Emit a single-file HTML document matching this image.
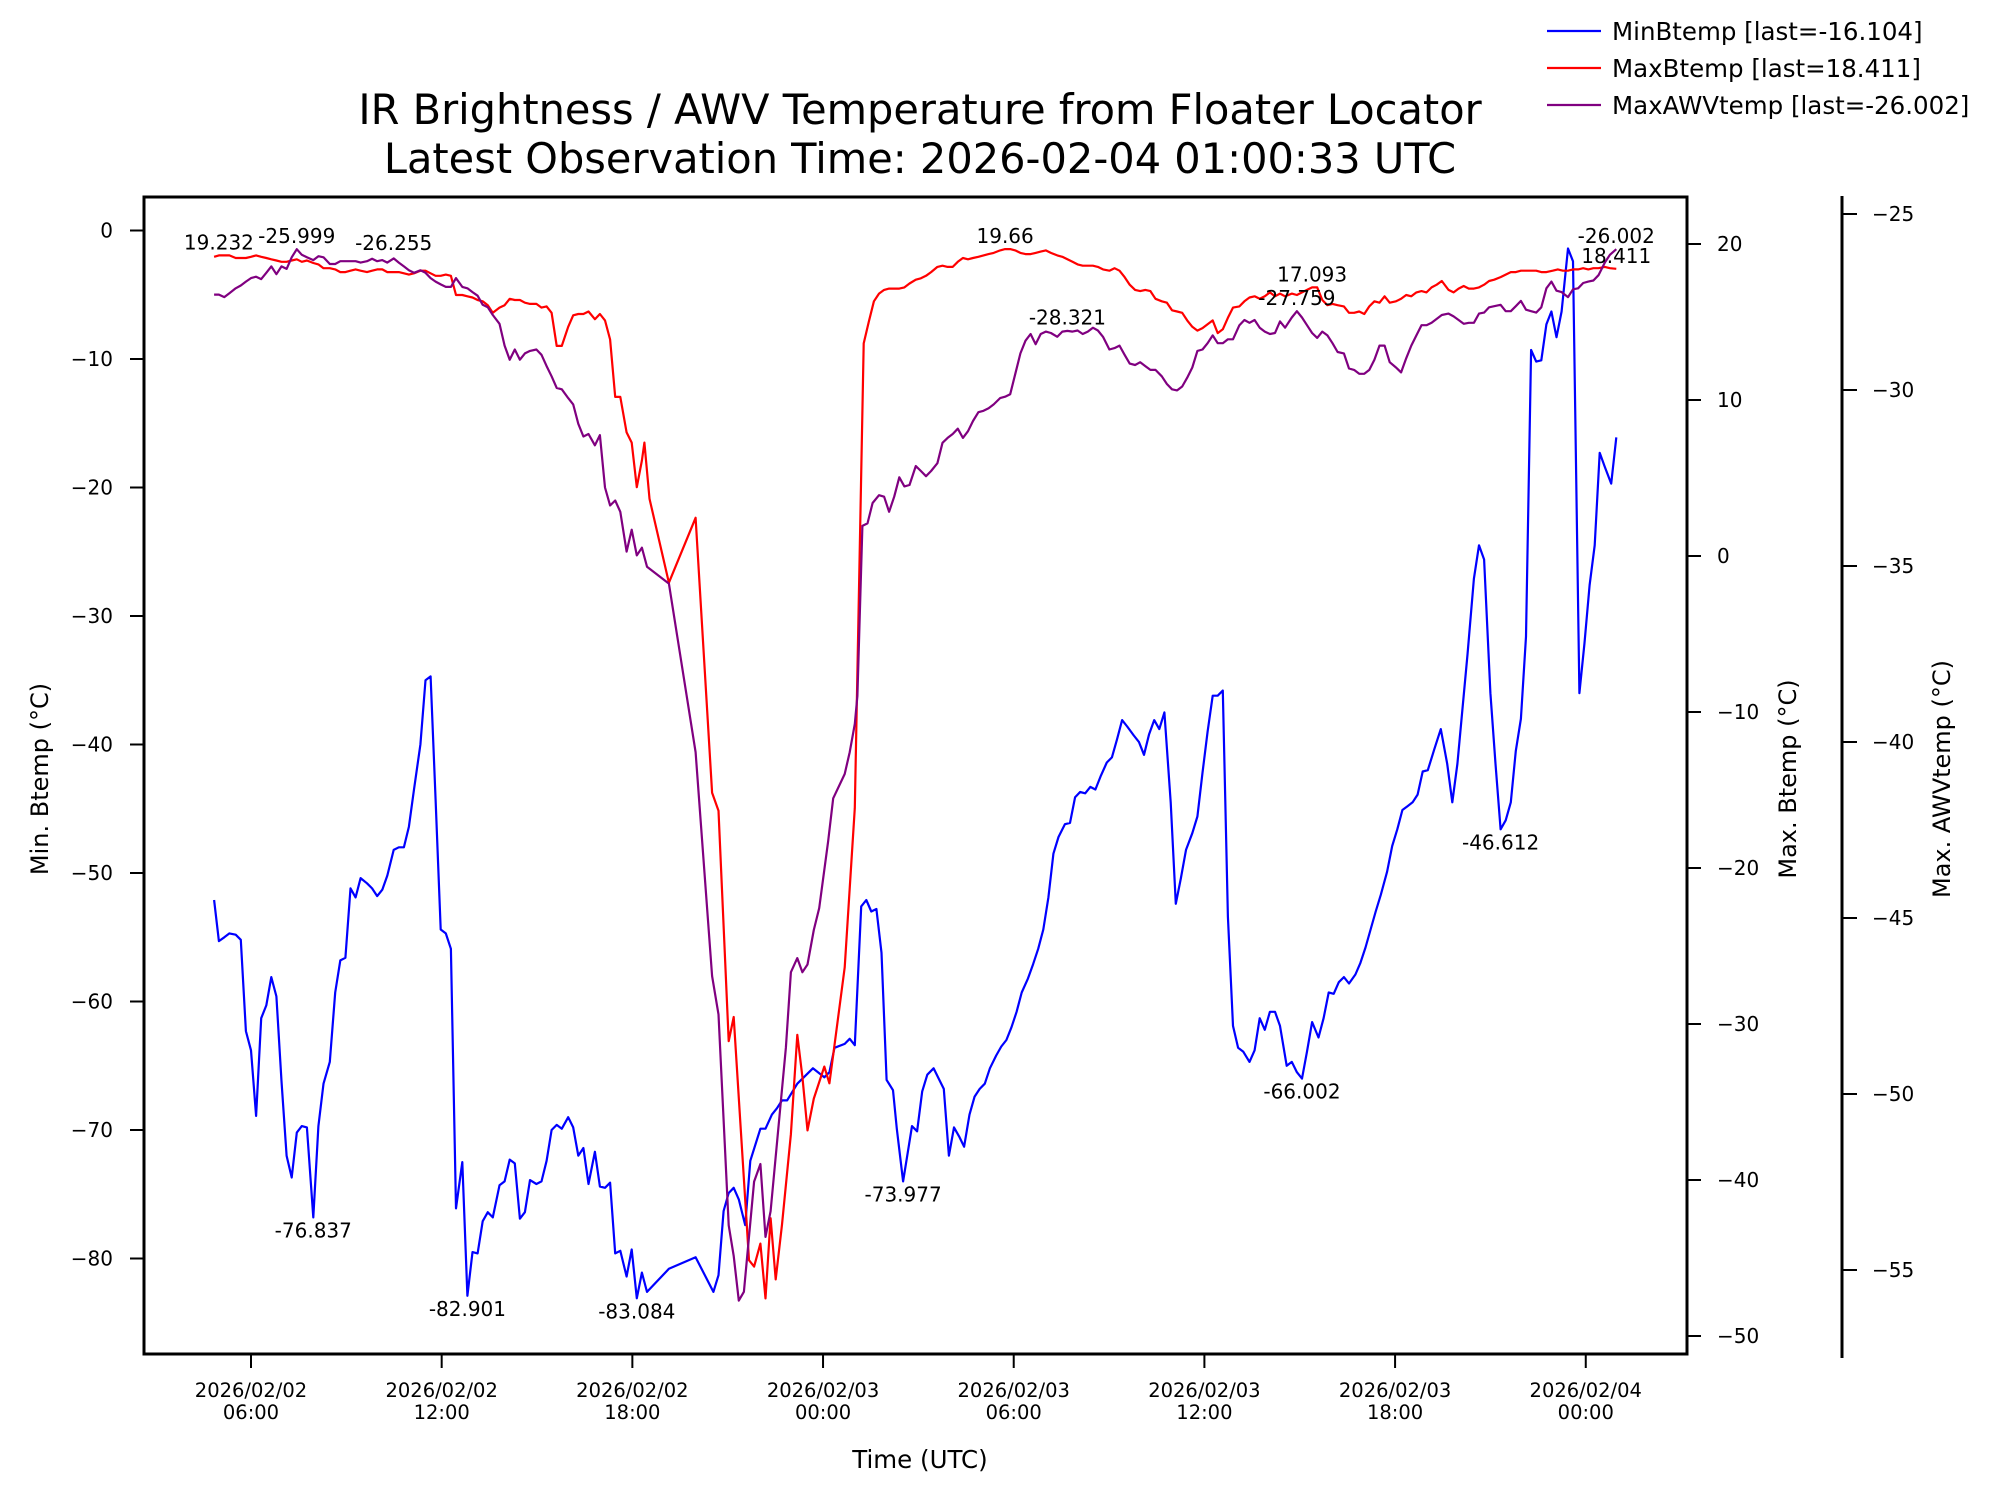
<!DOCTYPE html>
<html><head><meta charset="utf-8">
<style>
html,body{margin:0;padding:0;background:#fff;}
svg{display:block;font-family:"DejaVu Sans","Liberation Sans",sans-serif;}
</style></head>
<body>
<svg id="chart" width="1998" height="1495" viewBox="0 0 1998 1495" xmlns="http://www.w3.org/2000/svg">
<rect x="0" y="0" width="1998" height="1495" fill="#fff"/>
<g id="marks"></g>
<g id="axes"></g>
</svg>
<script>
// ===== data (time in hours since 2026/02/02 00:00 UTC) =====
const minTimes=[4.84,4.99,5.16,5.32,5.52,5.68,5.84,6.00,6.16,6.32,6.48,6.64,6.80,6.96,7.12,7.28,7.44,7.60,7.76,7.96,8.12,8.28,8.48,8.65,8.81,8.97,9.13,9.29,9.45,9.65,9.81,9.97,10.13,10.29,10.49,10.65,10.81,10.97,11.13,11.33,11.49,11.65,11.81,11.97,12.13,12.29,12.45,12.65,12.81,12.97,13.13,13.29,13.45,13.61,13.82,13.98,14.14,14.30,14.46,14.62,14.78,14.98,15.14,15.30,15.46,15.62,15.78,15.98,16.14,16.30,16.46,16.62,16.82,16.98,17.14,17.30,17.46,17.62,17.82,17.98,18.14,18.30,18.46,19.15,19.99,20.55,20.71,20.87,21.03,21.19,21.35,21.55,21.71,22.03,22.19,22.39,22.55,22.71,22.87,23.19,23.68,24.04,24.20,24.36,24.68,24.84,25.00,25.20,25.36,25.52,25.68,25.84,26.00,26.20,26.32,26.52,26.80,26.96,27.12,27.28,27.48,27.64,27.80,27.96,28.12,28.28,28.44,28.61,28.77,28.93,29.09,29.25,29.45,29.61,29.77,29.93,30.09,30.25,30.45,30.61,30.77,30.93,31.09,31.25,31.41,31.61,31.77,31.93,32.09,32.25,32.41,32.57,32.73,32.93,33.09,33.25,33.41,33.57,33.78,33.94,34.10,34.26,34.42,34.58,34.74,34.94,35.10,35.26,35.42,35.62,35.78,35.94,36.10,36.26,36.42,36.58,36.74,36.90,37.06,37.22,37.42,37.58,37.74,37.90,38.06,38.22,38.38,38.59,38.75,38.91,39.07,39.23,39.39,39.59,39.75,39.91,40.07,40.23,40.39,40.55,40.75,40.91,41.07,41.23,41.39,41.55,41.75,41.91,42.07,42.23,42.39,42.55,42.71,42.87,43.03,43.23,43.44,43.64,43.80,43.96,44.12,44.28,44.48,44.64,44.80,45.00,45.16,45.32,45.48,45.64,45.80,45.96,46.12,46.28,46.44,46.60,46.76,46.92,47.08,47.24,47.44,47.60,47.80,47.96,48.12,48.28,48.44,48.60,48.80,48.96];
const minValues=[-52.1,-55.3,-55.0,-54.7,-54.8,-55.2,-62.3,-63.8,-68.9,-61.3,-60.3,-58.1,-59.6,-66.2,-72.0,-73.7,-70.2,-69.7,-69.8,-76.8,-69.7,-66.4,-64.7,-59.3,-56.8,-56.6,-51.2,-51.9,-50.4,-50.8,-51.2,-51.8,-51.3,-50.2,-48.2,-48.0,-48.0,-46.4,-43.5,-40.0,-35.0,-34.7,-44.3,-54.4,-54.7,-55.9,-76.1,-72.5,-82.9,-79.5,-79.6,-77.1,-76.4,-76.8,-74.3,-74.0,-72.3,-72.6,-76.9,-76.4,-73.9,-74.2,-74.0,-72.4,-70.0,-69.6,-69.9,-69.0,-69.8,-72.0,-71.4,-74.2,-71.7,-74.4,-74.5,-74.1,-79.6,-79.4,-81.4,-79.3,-83.1,-81.1,-82.6,-80.8,-79.9,-82.6,-81.3,-76.3,-74.9,-74.5,-75.4,-77.4,-72.4,-69.9,-69.9,-68.8,-68.3,-67.7,-67.7,-66.4,-65.2,-65.9,-65.5,-63.6,-63.3,-62.9,-63.4,-52.6,-52.1,-53.0,-52.8,-56.2,-66.1,-66.9,-69.9,-74.0,-69.7,-70.1,-67.0,-65.7,-65.2,-66.0,-66.8,-72.0,-69.8,-70.5,-71.3,-68.8,-67.4,-66.8,-66.4,-65.2,-64.2,-63.5,-63.0,-62.0,-60.8,-59.3,-58.2,-57.1,-55.9,-54.4,-51.9,-48.5,-47.2,-46.2,-46.1,-44.1,-43.7,-43.8,-43.3,-43.5,-42.5,-41.4,-41.0,-39.6,-38.1,-38.6,-39.3,-39.8,-40.8,-39.2,-38.1,-38.8,-37.5,-44.5,-52.4,-50.4,-48.2,-46.9,-45.6,-42.2,-39.0,-36.2,-36.2,-35.8,-53.4,-61.9,-63.6,-63.9,-64.7,-63.8,-61.3,-62.2,-60.8,-60.8,-61.9,-65.0,-64.7,-65.5,-66.0,-63.9,-61.6,-62.8,-61.3,-59.3,-59.4,-58.5,-58.1,-58.6,-57.9,-57.0,-55.8,-54.4,-53.0,-51.7,-49.9,-47.9,-46.6,-45.1,-44.8,-44.5,-43.9,-42.1,-42.0,-40.4,-38.8,-41.5,-44.5,-41.5,-37.2,-33.0,-27.1,-24.5,-25.6,-36.0,-41.5,-46.6,-45.9,-44.5,-40.5,-38.0,-31.6,-9.3,-10.2,-10.1,-7.3,-6.3,-8.3,-6.3,-1.4,-2.4,-36.0,-32.1,-27.6,-24.5,-17.3,-18.4,-19.7,-16.1];

const maxTimes=[4.84,4.99,5.16,5.32,5.52,5.68,5.84,6.00,6.16,6.32,6.48,6.64,6.80,6.96,7.12,7.28,7.44,7.60,7.76,7.96,8.12,8.28,8.48,8.65,8.81,8.97,9.13,9.29,9.45,9.65,9.81,9.97,10.13,10.29,10.49,10.65,10.81,10.97,11.13,11.33,11.49,11.65,11.81,11.97,12.13,12.29,12.45,12.65,12.81,12.97,13.13,13.29,13.45,13.61,13.82,13.98,14.14,14.30,14.46,14.62,14.78,14.98,15.14,15.30,15.46,15.62,15.78,15.98,16.14,16.30,16.46,16.62,16.82,16.98,17.14,17.30,17.46,17.62,17.82,17.98,18.14,18.30,18.38,18.54,19.15,19.99,20.51,20.71,21.03,21.19,21.67,21.83,22.03,22.19,22.35,22.51,22.71,22.99,23.19,23.35,23.51,23.71,24.04,24.20,24.36,24.68,25.00,25.28,25.44,25.60,25.76,25.92,26.08,26.24,26.40,26.56,26.72,26.92,27.08,27.24,27.40,27.60,27.76,27.92,28.08,28.24,28.40,28.56,28.72,28.89,29.05,29.21,29.37,29.57,29.73,29.89,30.05,30.21,30.37,30.53,30.69,30.85,31.01,31.17,31.37,31.53,31.69,31.85,32.01,32.17,32.33,32.49,32.65,32.81,33.01,33.17,33.33,33.49,33.65,33.82,33.98,34.14,34.30,34.46,34.66,34.82,34.98,35.14,35.30,35.46,35.62,35.78,35.94,36.10,36.26,36.42,36.58,36.74,36.90,37.10,37.26,37.42,37.58,37.74,37.90,38.06,38.22,38.38,38.54,38.75,38.91,39.07,39.23,39.39,39.55,39.71,39.87,40.03,40.19,40.39,40.55,40.71,40.87,41.03,41.19,41.35,41.51,41.67,41.83,42.03,42.19,42.35,42.51,42.67,42.83,42.99,43.15,43.31,43.47,43.68,43.84,44.00,44.16,44.32,44.48,44.64,44.80,44.96,45.12,45.32,45.48,45.64,45.80,45.96,46.12,46.28,46.44,46.60,46.76,46.96,47.12,47.28,47.44,47.60,47.76,47.92,48.08,48.24,48.40,48.60,48.76,48.96];
const maxValues=[19.18,19.27,19.27,19.27,19.10,19.10,19.10,19.18,19.27,19.18,19.10,19.02,18.94,18.86,18.86,18.94,19.02,18.86,18.94,18.78,18.69,18.45,18.45,18.37,18.20,18.20,18.29,18.37,18.29,18.20,18.29,18.37,18.37,18.20,18.20,18.20,18.12,18.04,18.12,18.29,18.29,18.12,17.96,17.96,18.04,17.96,16.73,16.73,16.65,16.57,16.41,16.33,16.08,15.59,15.92,16.08,16.49,16.41,16.41,16.24,16.16,16.16,15.92,16.00,15.59,13.47,13.47,14.69,15.43,15.51,15.51,15.67,15.18,15.51,15.10,13.88,10.20,10.20,7.92,7.27,4.41,6.12,7.27,3.67,-1.71,2.45,-15.18,-16.33,-31.10,-29.55,-45.14,-45.55,-44.08,-47.59,-42.45,-46.37,-42.86,-37.06,-30.69,-33.39,-36.82,-34.78,-32.73,-33.80,-31.35,-26.37,-16.16,13.63,15.02,16.33,16.82,17.06,17.14,17.14,17.14,17.22,17.47,17.71,17.80,17.96,18.20,18.53,18.61,18.53,18.53,18.86,19.10,19.02,19.10,19.18,19.27,19.35,19.43,19.59,19.67,19.67,19.59,19.43,19.35,19.35,19.43,19.51,19.59,19.43,19.27,19.18,19.02,18.86,18.69,18.61,18.61,18.61,18.53,18.37,18.29,18.45,18.29,17.88,17.39,17.06,16.98,17.06,16.98,16.49,16.33,16.24,15.75,15.67,15.59,15.10,14.69,14.45,14.61,14.86,15.10,14.29,14.53,15.27,15.92,16.00,16.33,16.57,16.65,16.49,16.65,16.90,16.65,16.82,16.65,16.82,16.73,16.90,17.06,17.22,17.22,16.41,16.08,16.16,16.08,16.00,15.59,15.59,15.67,15.51,16.00,16.33,16.24,16.65,16.24,16.33,16.49,16.73,16.65,16.90,16.98,16.90,17.22,17.39,17.63,17.06,16.90,17.14,17.31,17.14,17.14,17.22,17.39,17.63,17.71,17.88,18.04,18.20,18.20,18.29,18.29,18.29,18.29,18.20,18.20,18.29,18.37,18.29,18.29,18.37,18.37,18.45,18.37,18.45,18.45,18.53,18.45,18.41];

const awvTimes=[4.84,4.99,5.16,5.32,5.52,5.68,5.84,6.00,6.16,6.32,6.48,6.64,6.80,6.96,7.12,7.28,7.44,7.60,7.76,7.96,8.12,8.28,8.48,8.65,8.81,8.97,9.13,9.29,9.45,9.65,9.81,9.97,10.13,10.29,10.49,10.65,10.81,10.97,11.13,11.33,11.49,11.65,11.81,11.97,12.13,12.29,12.45,12.65,12.81,12.97,13.13,13.29,13.45,13.61,13.82,13.98,14.14,14.30,14.46,14.62,14.78,14.98,15.14,15.30,15.46,15.62,15.78,15.98,16.14,16.30,16.46,16.62,16.82,16.98,17.14,17.30,17.46,17.62,17.82,17.98,18.14,18.30,18.46,19.15,19.99,20.51,20.71,21.03,21.19,21.35,21.51,21.83,22.03,22.19,22.35,22.83,22.99,23.19,23.35,23.51,23.71,23.88,24.16,24.32,24.68,24.84,25.00,25.08,25.24,25.40,25.56,25.76,25.92,26.08,26.24,26.40,26.56,26.72,26.92,27.08,27.24,27.40,27.60,27.76,27.92,28.08,28.24,28.40,28.56,28.72,28.89,29.05,29.21,29.37,29.57,29.73,29.89,30.05,30.21,30.37,30.53,30.69,30.85,31.01,31.17,31.37,31.53,31.69,31.85,32.01,32.17,32.33,32.49,32.65,32.81,33.01,33.17,33.33,33.49,33.65,33.82,33.98,34.14,34.30,34.46,34.66,34.82,34.98,35.14,35.30,35.46,35.62,35.78,35.94,36.10,36.26,36.42,36.58,36.74,36.90,37.10,37.26,37.42,37.58,37.74,37.90,38.06,38.22,38.38,38.54,38.75,38.91,39.07,39.23,39.39,39.55,39.71,39.87,40.03,40.19,40.39,40.55,40.71,40.87,41.03,41.19,41.35,41.51,41.67,41.83,42.03,42.19,42.35,42.51,42.67,42.83,42.99,43.15,43.31,43.47,43.68,43.84,44.00,44.16,44.32,44.48,44.64,44.80,44.96,45.12,45.32,45.48,45.64,45.80,45.96,46.12,46.28,46.44,46.60,46.76,46.92,47.08,47.24,47.44,47.60,47.76,47.92,48.08,48.24,48.40,48.60,48.76,48.96];
const awvValues=[-27.29,-27.29,-27.36,-27.25,-27.11,-27.03,-26.92,-26.82,-26.78,-26.85,-26.67,-26.49,-26.71,-26.49,-26.56,-26.23,-26.00,-26.16,-26.23,-26.31,-26.20,-26.23,-26.42,-26.42,-26.34,-26.34,-26.34,-26.34,-26.38,-26.34,-26.27,-26.34,-26.31,-26.38,-26.26,-26.38,-26.49,-26.60,-26.67,-26.60,-26.67,-26.82,-26.92,-27.00,-27.07,-27.07,-26.82,-27.07,-27.11,-27.22,-27.32,-27.58,-27.65,-27.87,-28.12,-28.74,-29.14,-28.85,-29.14,-28.96,-28.89,-28.85,-29.00,-29.32,-29.61,-29.94,-29.98,-30.23,-30.41,-30.96,-31.32,-31.25,-31.57,-31.28,-32.77,-33.28,-33.14,-33.46,-34.59,-33.97,-34.70,-34.48,-35.02,-35.50,-40.29,-46.65,-47.74,-53.73,-54.60,-55.87,-55.62,-52.49,-51.99,-54.06,-53.33,-48.68,-46.54,-46.14,-46.54,-46.32,-45.34,-44.72,-42.83,-41.60,-40.91,-40.29,-39.49,-38.69,-33.86,-33.79,-33.21,-32.99,-33.03,-33.46,-33.03,-32.48,-32.74,-32.70,-32.16,-32.30,-32.45,-32.30,-32.08,-31.50,-31.36,-31.25,-31.10,-31.36,-31.17,-30.88,-30.63,-30.59,-30.52,-30.41,-30.23,-30.19,-30.12,-29.54,-28.96,-28.60,-28.41,-28.70,-28.41,-28.34,-28.38,-28.49,-28.34,-28.32,-28.34,-28.31,-28.41,-28.34,-28.23,-28.31,-28.49,-28.85,-28.81,-28.74,-29.00,-29.25,-29.29,-29.21,-29.32,-29.43,-29.43,-29.61,-29.83,-29.98,-30.01,-29.90,-29.65,-29.36,-28.89,-28.85,-28.67,-28.45,-28.67,-28.67,-28.56,-28.56,-28.16,-28.01,-28.09,-28.01,-28.23,-28.34,-28.41,-28.38,-28.05,-28.23,-27.94,-27.76,-27.94,-28.16,-28.38,-28.52,-28.34,-28.45,-28.67,-28.92,-28.96,-29.39,-29.43,-29.54,-29.54,-29.43,-29.14,-28.74,-28.74,-29.21,-29.36,-29.50,-29.10,-28.74,-28.45,-28.16,-28.16,-28.09,-27.98,-27.87,-27.83,-27.91,-28.01,-28.12,-28.09,-28.09,-27.83,-27.80,-27.65,-27.62,-27.58,-27.76,-27.76,-27.62,-27.47,-27.72,-27.76,-27.80,-27.65,-27.11,-26.92,-27.18,-27.22,-27.36,-27.14,-27.11,-26.96,-26.92,-26.89,-26.74,-26.38,-26.16,-26.00];

const xTickHours=[6,12,18,24,30,36,42,48];
const xTickDates=["2026/02/02","2026/02/02","2026/02/02","2026/02/03","2026/02/03","2026/02/03","2026/02/03","2026/02/04"];
const xTickTimes=["06:00","12:00","18:00","00:00","06:00","12:00","18:00","00:00"];
const leftTicks=[0,-10,-20,-30,-40,-50,-60,-70,-80];
const rightTicks=[20,10,0,-10,-20,-30,-40,-50];
const awvTicks=[-25,-30,-35,-40,-45,-50,-55];

const annTexts=["19.232","-25.999","-26.255","19.66","-28.321","17.093","-27.759","-26.002","18.411","-76.837","-82.901","-83.084","-73.977","-66.002","-46.612"];
const annHours=[4.99,7.44,10.49,29.73,31.69,39.39,38.91,48.96,48.96,7.96,12.81,18.14,26.52,39.07,45.32];
const annSeries=["max","awv","awv","max","awv","max","awv","awv","max","min","min","min","min","min","min"];
const annValues=[19.27,-26.00,-26.20,19.67,-28.31,17.22,-27.76,-26.00,18.41,-76.8,-82.9,-83.1,-74.0,-66.0,-46.6];

// ===== axis functions =====
const xOf=h=>251+(h-6)*31.78;
const yMin=v=>230.5-v*12.85;
const yMax=v=>244+(20-v)*15.6;
const yAwv=v=>214+(-25-v)*35.2;
const PL=144,PR=1687,PT=197,PB=1354,AX3=1842;
const NS="http://www.w3.org/2000/svg";
const marks=document.getElementById('marks');
const axes=document.getElementById('axes');
function mk(tag,attrs,parent){const e=document.createElementNS(NS,tag);for(const k in attrs)e.setAttribute(k,attrs[k]);parent.appendChild(e);return e;}
function txt(s,attrs,parent){const e=mk('text',attrs,parent);e.textContent=s;return e;}

function series(times,vals,yf,color,name){
  let d='';
  for(let i=0;i<times.length;i++){d+=(i?'L':'M')+xOf(times[i]).toFixed(1)+','+yf(vals[i]).toFixed(1);}
  const p=mk('path',{d:d,fill:'none',stroke:color,'stroke-width':2.2,'stroke-linejoin':'round'},marks);
  
  
}
series(minTimes,minValues,yMin,'#0000ff','min-btemp-line');
series(maxTimes,maxValues,yMax,'#ff0000','max-btemp-line');
series(awvTimes,awvValues,yAwv,'#800080','max-awv-temp-line');

for(let i=0;i<annTexts.length;i++){
  const f=annSeries[i]==='min'?yMin:(annSeries[i]==='max'?yMax:yAwv);
  const y=f(annValues[i]);
  const below=annSeries[i]==='min';
  const t=txt(annTexts[i],{x:xOf(annHours[i]),y:below?y+20:y-6,'font-size':20,'text-anchor':'middle',fill:'#000'},marks);
  
  
}

const frame=mk('rect',{x:PL,y:PT,width:PR-PL,height:PB-PT,fill:'none',stroke:'#000','stroke-width':3},axes);



for(let i=0;i<xTickHours.length;i++){
  const x=xOf(xTickHours[i]);
  const tk=mk('line',{x1:x,y1:PB,x2:x,y2:PB+14,stroke:'#000','stroke-width':2},axes);
  
  
  const t1=txt(xTickDates[i],{x:x,y:1397,'font-size':19.5,'text-anchor':'middle'},axes);
  
  
  const t2=txt(xTickTimes[i],{x:x,y:1419,'font-size':19.5,'text-anchor':'middle'},axes);
  
  
}
for(const v of leftTicks){
  const y=yMin(v);
  const tk=mk('line',{x1:PL-14,y1:y,x2:PL,y2:y,stroke:'#000','stroke-width':2},axes);
  
  
  const t=txt(String(v).replace('-','\u2212'),{x:113,y:y+7,'font-size':20,'text-anchor':'end'},axes);
  
  
}
for(const v of rightTicks){
  const y=yMax(v);
  const tk=mk('line',{x1:PR,y1:y,x2:PR+14,y2:y,stroke:'#000','stroke-width':2},axes);
  
  
  const t=txt(String(v).replace('-','\u2212'),{x:1717,y:y+7,'font-size':20,'text-anchor':'start'},axes);
  
  
}
const sp=mk('line',{x1:AX3,y1:196,x2:AX3,y2:1358,stroke:'#000','stroke-width':3},axes);


for(const v of awvTicks){
  const y=yAwv(v);
  const tk=mk('line',{x1:AX3,y1:y,x2:AX3+15,y2:y,stroke:'#000','stroke-width':2},axes);
  
  
  const t=txt(String(v).replace('-','\u2212'),{x:1872,y:y+7,'font-size':20,'text-anchor':'start'},axes);
  
  
}
</script>
<svg style="position:absolute;left:0;top:0" width="1998" height="1495" xmlns="http://www.w3.org/2000/svg">
<text x="920" y="124" font-size="41.5" text-anchor="middle">IR Brightness / AWV Temperature from Floater Locator</text>
<text x="920" y="173" font-size="41.5" text-anchor="middle">Latest Observation Time: 2026-02-04 01:00:33 UTC</text>
<text x="920" y="1468" font-size="24.5" text-anchor="middle">Time (UTC)</text>
<text transform="translate(48,779) rotate(-90)" font-size="24" text-anchor="middle">Min. Btemp (°C)</text>
<text transform="translate(1796,779) rotate(-90)" font-size="24" text-anchor="middle">Max. Btemp (°C)</text>
<text transform="translate(1950,779) rotate(-90)" font-size="24" text-anchor="middle">Max. AWVtemp (°C)</text>
<g>
<line x1="1547" y1="31" x2="1601" y2="31" stroke="#0000ff" stroke-width="2.2"/>
<text x="1612" y="40" font-size="24.5">MinBtemp [last=-16.104]</text>
<line x1="1547" y1="68" x2="1601" y2="68" stroke="#ff0000" stroke-width="2.2"/>
<text x="1612" y="77" font-size="24.5">MaxBtemp [last=18.411]</text>
<line x1="1547" y1="105" x2="1601" y2="105" stroke="#800080" stroke-width="2.2"/>
<text x="1612" y="114" font-size="24.5">MaxAWVtemp [last=-26.002]</text>
</g>
</svg>
</body></html>
